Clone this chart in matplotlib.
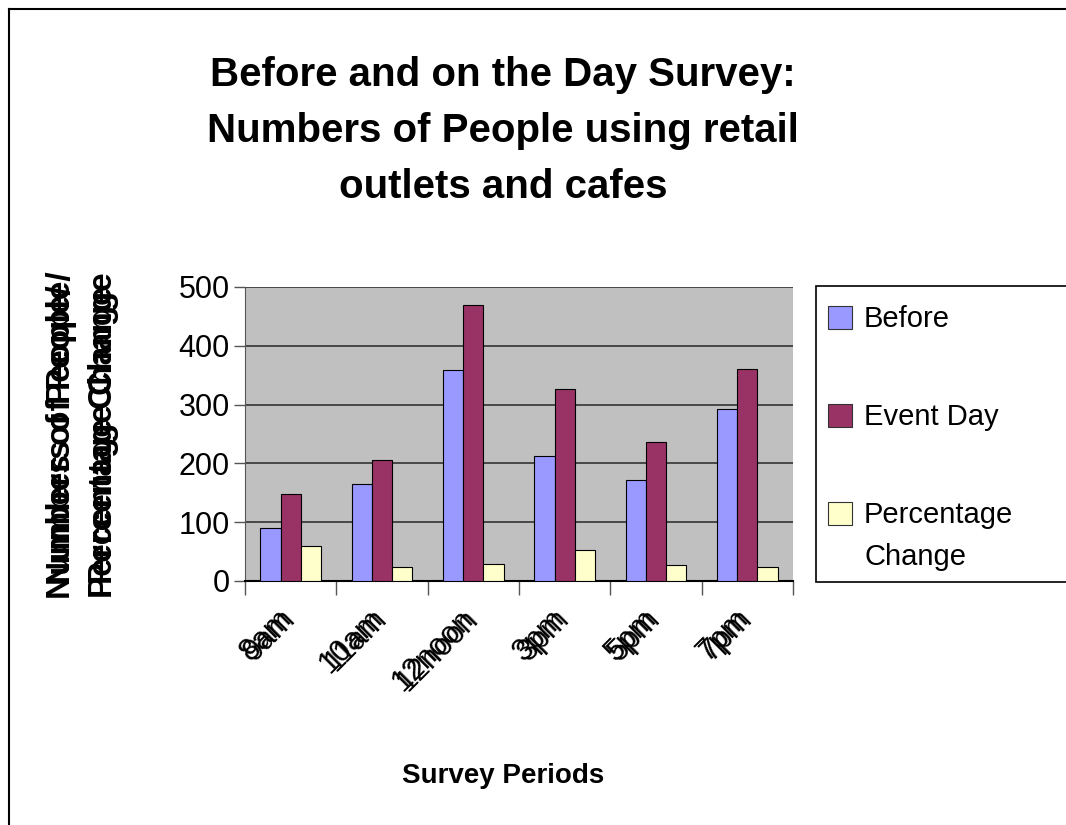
import matplotlib
matplotlib.use("Agg")
import matplotlib.pyplot as plt
import numpy as np
from matplotlib.patches import Rectangle
from matplotlib.lines import Line2D
from matplotlib.transforms import offset_copy

# survey data
periods_a = ["8am", "10am", "12noon", "3pm", "5pm", "7pm"]
periods_b = ["9am", "11am", "12noon", "3pm", "5pm", "7pm"]
before = [90, 165, 358, 212, 172, 293]
event_day = [148, 205, 470, 327, 236, 361]
pct_change = [59, 23, 29, 53, 27, 23]
series_names = ["Before", "Event Day", "Percentage\nChange"]
series_colors = ["#9999FF", "#993366", "#FFFFCC"]
y_ticks = [0, 100, 200, 300, 400, 500]

plt.rcParams["font.family"] = "Liberation Sans"

W, H = 1066, 825
fig = plt.figure(figsize=(W / 100, H / 100), dpi=100)


def fx(x):
    return x / W


def fy(y):
    return 1 - y / H


ax = fig.add_axes([fx(245), fy(581), fx(793) - fx(245), fy(287) - fy(581)])
ax.set_facecolor("#C0C0C0")

x = np.arange(len(periods_a))
w = 0.222
for i, (vals, col) in enumerate(zip([before, event_day, pct_change], series_colors)):
    ax.bar(x + (i - 1) * w, vals, width=w, color=col, edgecolor="black", linewidth=0.8, zorder=3)

ax.set_xlim(-0.5, len(periods_a) - 0.5)
ax.set_ylim(0, 500)
ax.set_yticks(y_ticks)
ax.set_yticklabels([str(t) for t in y_ticks], fontsize=22)
ax.yaxis.grid(True, color="#333333", linewidth=1.2, zorder=1)
ax.set_axisbelow(True)

# category ticks between groups, labels placed separately
ax.set_xticks(np.arange(-0.5, len(periods_a), 1.0))
ax.set_xticklabels([])
ax.tick_params(axis="x", direction="out", length=10, width=1, color="#555555")
ax.tick_params(axis="y", direction="out", length=8, width=1, color="#555555", pad=3)

for side in ["top", "right"]:
    ax.spines[side].set_visible(False)
ax.spines["left"].set_color("#555555")
ax.spines["bottom"].set_color("black")
ax.spines["bottom"].set_linewidth(1.5)

trans = ax.get_xaxis_transform()
for xi, la, lb in zip(x, periods_a, periods_b):
    for lab, dx in [(la, 0), (lb, 3)]:
        t = offset_copy(trans, fig=fig, x=dx - 3, y=-24, units="points")
        ax.text(xi, 0, lab, transform=t, rotation=45, rotation_mode="anchor",
                ha="right", va="center", fontsize=22)

# title
fig.text(0.472, fy(56), "Before and on the Day Survey:\nNumbers of People using retail\noutlets and cafes",
         ha="center", va="top", fontsize=29, fontweight="bold", linespacing=1.6)

# axis titles
fig.text(0.472, fy(776), "Survey Periods", ha="center", va="center", fontsize=20,
         fontweight="bold")
for xc, txt in [(62, "Numbers of People/"), (104, "Percentage Change")]:
    for dy in (0, 14):
        fig.text(fx(xc), fy(428 + dy), txt, rotation=90, ha="center", va="center",
                 fontsize=24, fontweight="bold")

# legend
fig.patches.append(Rectangle((fx(816), fy(582)), fx(1080) - fx(816), fy(286) - fy(582),
                             transform=fig.transFigure, facecolor="white", edgecolor="black",
                             linewidth=1.2, zorder=0))
for name, col, yc in zip(series_names, series_colors, [318, 416, 514]):
    fig.patches.append(Rectangle((fx(828), fy(yc + 11)), fx(24), 23 / H,
                                 transform=fig.transFigure, facecolor=col,
                                 edgecolor="#333333", linewidth=0.8))
    for j, line in enumerate(name.split("\n")):
        fig.text(fx(864), fy(yc + 1 + j * 42), line, ha="left", va="center", fontsize=21)

# outer frame
fig.add_artist(Line2D([fx(9), fx(9)], [0, fy(9)], transform=fig.transFigure, color="black", linewidth=1.5))
fig.add_artist(Line2D([fx(9), 1], [fy(9), fy(9)], transform=fig.transFigure, color="black", linewidth=1.5))

fig.savefig("out.png", dpi=100)
